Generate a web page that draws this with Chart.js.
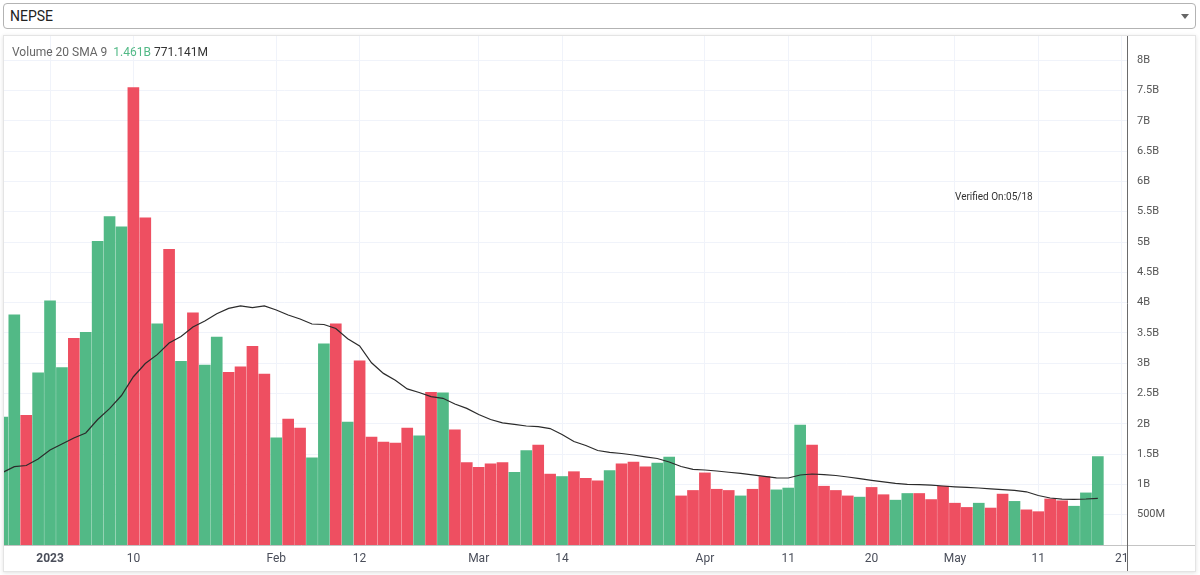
<!DOCTYPE html>
<html>
<head>
<meta charset="utf-8">
<title>NEPSE volume</title>
<script src="https://cdn.jsdelivr.net/npm/chart.js@4.4.0/dist/chart.umd.min.js"></script>
<style>
  body { margin: 0; background: #fff; font-family: Roboto, "Noto Sans", sans-serif; }
  #picker {
    position: absolute; left: 3px; top: 3px; width: 1193px; height: 26px;
    box-sizing: border-box; border: 1px solid #b3b3b3; border-radius: 4px;
    font-size: 14px; color: #222; line-height: 24px; padding-left: 6px;
  }
  #picker .caret {
    position: absolute; right: 6px; top: 10px; width: 0; height: 0;
    border-left: 4px solid transparent; border-right: 4px solid transparent;
    border-top: 5px solid #666;
  }
  #panel {
    position: absolute; left: 3px; top: 35px; width: 1193px; height: 537px;
    box-sizing: border-box; border: 1px solid #e4e4e4;
    box-shadow: 0 1px 4px rgba(0,0,0,0.12);
  }
  #wrap { position: relative; width: 1191px; height: 535px; }
  #legend {
    position: absolute; left: 8px; top: 9px; font-size: 12px; color: #666;
    white-space: nowrap; pointer-events: none;
  }
  #legend .up { color: #52b986; margin-left: 6px; }
  #legend .sma { color: #333; margin-left: 3px; }
  #note {
    position: absolute; left: 951px; top: 155px; font-size: 10px; color: #333;
    white-space: nowrap; pointer-events: none;
  }
</style>
</head>
<body>
<div id="picker">NEPSE<span class="caret"></span></div>
<div id="panel">
  <div id="wrap">
    <canvas id="chart"></canvas>
    <div id="legend">Volume 20 SMA 9<span class="up">1.461B</span><span class="sma">771.141M</span></div>
    <div id="note">Verified On:05/18</div>
  </div>
</div>
<script>
// data, volumes in billions, one per trading day
const volumeB = [
  2.11, 3.80, 2.14, 2.84, 4.03, 2.93, 3.41, 3.51, 5.01, 5.42,
  5.25, 7.55, 5.40, 3.65, 4.88, 3.03, 3.83, 2.97, 3.43, 2.85,
  2.94, 3.28, 2.82, 1.77, 2.08, 1.93, 1.44, 3.32, 3.65, 2.03,
  3.04, 1.78, 1.70, 1.68, 1.93, 1.80, 2.52, 2.51, 1.90, 1.36,
  1.28, 1.34, 1.36, 1.20, 1.56, 1.65, 1.17, 1.13, 1.21, 1.10,
  1.06, 1.23, 1.34, 1.37, 1.29, 1.35, 1.45, 0.81, 0.90, 1.19,
  0.92, 0.90, 0.81, 0.92, 1.13, 0.91, 0.94, 1.98, 1.65, 0.97,
  0.90, 0.81, 0.79, 0.95, 0.83, 0.74, 0.85, 0.85, 0.75, 0.97,
  0.69, 0.62, 0.69, 0.61, 0.84, 0.72, 0.58, 0.55, 0.76, 0.73,
  0.64, 0.86, 1.461
];
// 1 = up day (green), 0 = down day (red)
const isUp = [
  1,1,0,1,1,1,0,1,1,1,
  1,0,0,1,0,1,0,1,1,0,
  0,0,0,1,0,0,1,1,0,1,
  0,0,0,0,0,1,0,1,0,0,
  0,0,0,1,1,0,0,1,0,0,
  0,1,0,0,0,1,1,0,0,0,
  0,0,1,0,0,1,1,1,0,0,
  0,0,1,0,0,1,1,0,0,0,
  0,0,1,0,0,1,0,0,0,0,
  1,1,1
];
// moving average line (billions)
const smaB = [
  1.196, 1.294, 1.312, 1.419, 1.568, 1.667, 1.766, 1.848, 2.071, 2.251,
  2.467, 2.777, 2.995, 3.142, 3.333, 3.441, 3.597, 3.696, 3.817, 3.904,
  3.947, 3.917, 3.947, 3.878, 3.795, 3.729, 3.647, 3.639, 3.573, 3.403,
  3.284, 3.008, 2.832, 2.719, 2.576, 2.516, 2.450, 2.421, 2.327, 2.254,
  2.153, 2.071, 2.016, 1.990, 1.964, 1.954, 1.922, 1.823, 1.708, 1.642,
  1.559, 1.530, 1.510, 1.485, 1.455, 1.427, 1.370, 1.295, 1.249, 1.238,
  1.221, 1.201, 1.182, 1.158, 1.132, 1.109, 1.106, 1.155, 1.172, 1.160,
  1.147, 1.122, 1.096, 1.068, 1.043, 1.018, 1.000, 0.995, 0.988, 0.974,
  0.960, 0.950, 0.941, 0.927, 0.914, 0.901, 0.878, 0.817, 0.776, 0.757,
  0.754, 0.759, 0.771
];

// time axis labels (bar index where each one sits)
const xTickAt   = [4, 11, 23, 30, 40, 47, 59, 66, 73, 80, 87, 94];
const xTickText = ['2023', '10', 'Feb', '12', 'Mar', '14', 'Apr', '11', '20', 'May', '11', '21'];
// price scale labels
const yTickAt   = [0.5, 1, 1.5, 2, 2.5, 3, 3.5, 4, 4.5, 5, 5.5, 6, 6.5, 7, 7.5, 8];
const yTickText = ['500M', '1B', '1.5B', '2B', '2.5B', '3B', '3.5B', '4B', '4.5B', '5B', '5.5B', '6B', '6.5B', '7B', '7.5B', '8B'];

const green = '#52b986';
const red = '#ee4f61';

// axis lines that run through the scale gutters
const axisLines = {
  id: 'axisLines',
  afterDraw(chart) {
    const {ctx, chartArea: a, width, height} = chart;
    ctx.save();
    ctx.lineWidth = 1;
    ctx.strokeStyle = '#c4c4c4';
    ctx.beginPath();
    ctx.moveTo(0, Math.round(a.bottom) + 0.5);
    ctx.lineTo(width, Math.round(a.bottom) + 0.5);
    ctx.stroke();
    ctx.strokeStyle = '#6b6b6b';
    ctx.beginPath();
    ctx.moveTo(Math.round(a.right) + 0.5, 0);
    ctx.lineTo(Math.round(a.right) + 0.5, height);
    ctx.stroke();
    ctx.restore();
  }
};

const data = {
  datasets: [{
    type: 'line',
    label: 'SMA',
    data: smaB.map((v, i) => ({x: i, y: v})),
    borderColor: '#2b2b2b',
    borderWidth: 1.2,
    pointRadius: 0,
    tension: 0,
    order: 0
  },
  {
    type: 'bar',
    label: 'Volume',
    data: volumeB.map((v, i) => ({x: i, y: v})),
    backgroundColor: isUp.map(u => u ? green : red),
    borderWidth: 0,
    barThickness: 11,
    order: 1
  }]
};

const config = {
  type: 'bar',
  data: data,
  options: {
    responsive: true,
    maintainAspectRatio: false,
    animation: false,
    layout: { padding: 0 },
    plugins: {
      legend: { display: false },
      tooltip: { enabled: false }
    },
    scales: {
      x: {
        type: 'linear',
        min: 0.134,
        max: 94.45,
        offset: false,
        grid: { color: '#f0f3fa', drawTicks: false, offset: false },
        border: { display: false },
        afterBuildTicks: (s) => { s.ticks = xTickAt.map(v => ({value: v})); },
        afterFit: (s) => { s.height = 26; s.paddingLeft = 0; s.paddingRight = 0; },
        ticks: {
          autoSkip: false,
          maxRotation: 0,
          padding: 7,
          color: '#4a4e5a',
          font: (c) => ({ size: 12, weight: xTickText[c.index] === '2023' ? 'bold' : 'normal' }),
          callback: (v, i) => xTickText[i]
        }
      },
      y: {
        position: 'right',
        min: 0,
        max: 8.4,
        grid: { color: '#f0f3fa', drawTicks: false },
        border: { display: false },
        afterBuildTicks: (s) => { s.ticks = yTickAt.map(v => ({value: v})); },
        afterFit: (s) => { s.width = 68; s.paddingTop = 0; s.paddingBottom = 0; },
        ticks: {
          padding: 10,
          color: '#555',
          font: { size: 11 },
          callback: (v, i) => yTickText[i]
        }
      }
    }
  },
  plugins: [axisLines]
};

var chart = null;

document.addEventListener("DOMContentLoaded", () => {
  Chart.defaults.font.family = 'Roboto, "Noto Sans", sans-serif';
  chart = new Chart(document.getElementById('chart'), config);
});
</script>
</body>
</html>
